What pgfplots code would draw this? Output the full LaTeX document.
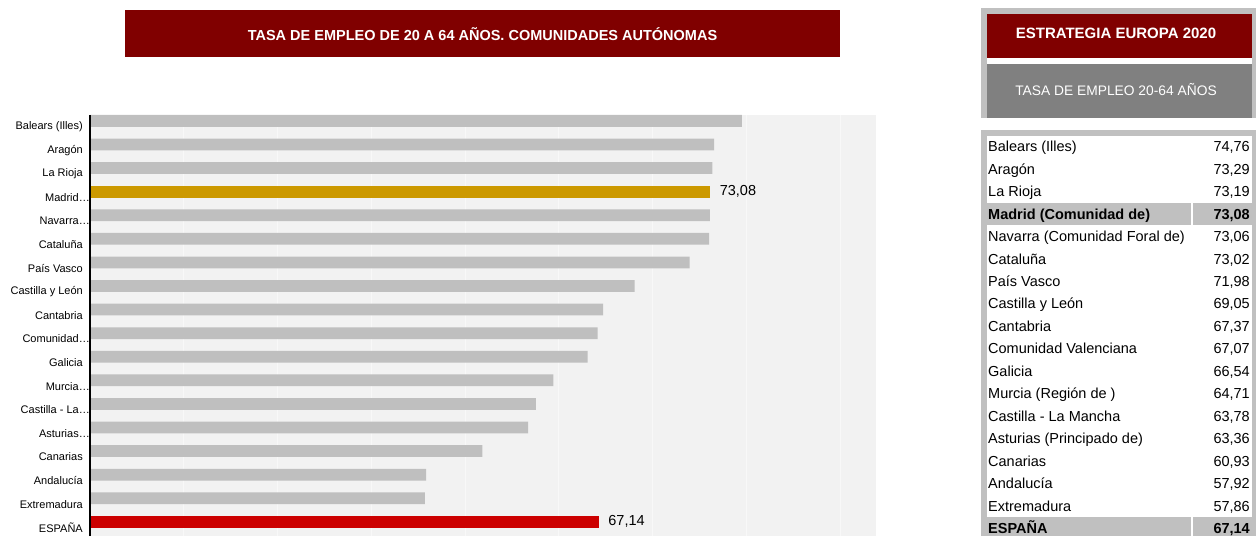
\documentclass[border=0pt]{standalone}
\usepackage{pgfplots}
\pgfplotsset{compat=1.18}
\usepackage{fontspec}
\setmainfont{Liberation Sans}
\definecolor{titlered}{HTML}{800000}
\definecolor{bargray}{HTML}{BFBFBF}
\definecolor{madrid}{HTML}{CC9900}
\definecolor{spain}{HTML}{CC0000}
\definecolor{bggray}{HTML}{F2F2F2}
\definecolor{gridc}{HTML}{F8F8F8}
\definecolor{panelgray}{HTML}{C0C0C0}
\definecolor{midgray}{HTML}{808080}
\newcommand{\gap}{\kern7pt}
\begin{document}
\begin{tikzpicture}[x=1pt,y=1pt]
\useasboundingbox (0,0) rectangle (1256,536);
% chart title
\fill[titlered] (125,479) rectangle (840,526);
\node[text=white,font=\fontsize{14.5}{16}\selectfont\bfseries] at (482.5,502) {TASA DE EMPLEO DE 20 A 64 AÑOS. COMUNIDADES AUTÓNOMAS};
\begin{axis}[at={(90pt,421pt)}, anchor=north west, scale only axis,
  width=786pt, height=421pt,
  xmin=40, xmax=81.92, ymin=-0.35, ymax=17.5,
  xbar, bar width=0.5,
  axis background/.style={fill=bggray},
  axis line style={draw=none},
  xtick={40,45,...,80}, xticklabels={},
  xmajorgrids, grid style={gridc, line width=1pt},
  ytick={0,...,17},
  yticklabels={ESPAÑA\gap, Extremadura\gap, Andalucía\gap, Canarias\gap, Asturias…, Castilla - La…, Murcia…, Galicia\gap, Comunidad…, Cantabria\gap, Castilla y León\gap, País Vasco\gap, Cataluña\gap, Navarra…, Madrid…, La Rioja\gap, Aragón\gap, Balears (Illes)\gap},
  major tick length=0pt,
  yticklabel style={font=\fontsize{11}{13}\selectfont, inner xsep=0pt, anchor=east},
  nodes near coords align={horizontal},
  every node near coord/.append style={font=\fontsize{14.5}{16}\selectfont, text=black, anchor=west, xshift=6pt},
]
\addplot[fill=bargray, draw=none, bar shift=0.25] coordinates {
 (74.76,17) (73.29,16) (73.19,15) (73.06,13) (73.02,12) (71.98,11)
 (69.05,10) (67.37,9) (67.07,8) (66.54,7) (64.71,6) (63.78,5)
 (63.36,4) (60.93,3) (57.92,2) (57.86,1)};
\addplot[fill=madrid, draw=none, bar shift=0.25, nodes near coords, point meta=explicit symbolic] coordinates {(73.08,14) [73,08]};
\addplot[fill=spain, draw=none, bar shift=0.25, nodes near coords, point meta=explicit symbolic] coordinates {(67.14,0) [67,14]};
\end{axis}
\draw[black, line width=1.2pt] (90,0) -- (90,421);
% right header panel
\fill[panelgray] (981,418) rectangle (1256,528);
\fill[titlered] (986.7,477.7) rectangle (1251.7,522);
\fill[white] (986.7,472) rectangle (1251.7,477.7);
\fill[midgray] (986.7,418) rectangle (1251.7,472);
\node[text=white,font=\fontsize{15}{17}\selectfont\bfseries] at (1116,503) {ESTRATEGIA EUROPA 2020};
\node[text=white,font=\fontsize{13.8}{16}\selectfont] at (1116,446) {TASA DE EMPLEO 20-64 AÑOS};
% right table
\fill[panelgray] (981,0) rectangle (1256,406);
\fill[white] (986.7,0) rectangle (1251.7,400);
\fill[panelgray] (986.7,310.7) rectangle (1190.7,333.2);
\fill[panelgray] (1192.7,310.7) rectangle (1251.7,333.2);
\fill[panelgray] (986.7,0) rectangle (1190.7,18.95);
\fill[panelgray] (1192.7,0) rectangle (1251.7,18.95);
\foreach \i/\n/\v in {0/Balears (Illes)/{74,76}, 1/Aragón/{73,29}, 2/La Rioja/{73,19},
  3/\textbf{Madrid (Comunidad de)}/\textbf{73,08}, 4/Navarra (Comunidad Foral de)/{73,06},
  5/Cataluña/{73,02}, 6/País Vasco/{71,98}, 7/Castilla y León/{69,05}, 8/Cantabria/{67,37},
  9/Comunidad Valenciana/{67,07}, 10/Galicia/{66,54}, 11/Murcia (Región de )/{64,71},
  12/Castilla - La Mancha/{63,78}, 13/Asturias (Principado de)/{63,36}, 14/Canarias/{60,93},
  15/Andalucía/{57,92}, 16/Extremadura/{57,86}, 17/\textbf{ESPAÑA}/\textbf{67,14}} {
  \node[anchor=west, inner sep=0pt, text height=10.4pt, text depth=0pt, font=\fontsize{14.5}{16}\selectfont] at (988,{389.4-22.45*\i}) {\n};
  \node[anchor=east, inner sep=0pt, text height=10.4pt, text depth=0pt, font=\fontsize{14.5}{16}\selectfont] at (1250,{389.4-22.45*\i}) {\v};
}
\end{tikzpicture}
\end{document}
